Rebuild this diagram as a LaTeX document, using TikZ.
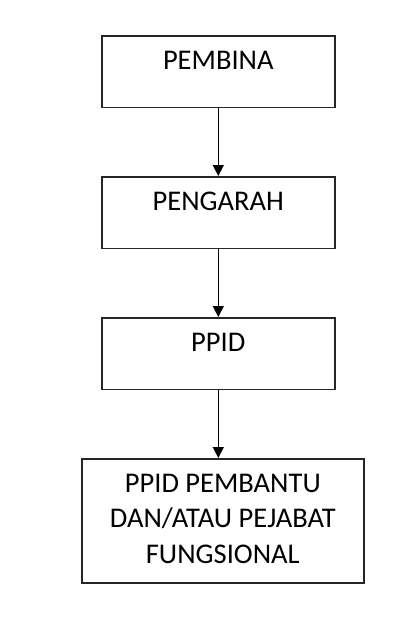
\documentclass[tikz,border=0pt]{standalone}
\usepackage{fontspec}
\setmainfont{Carlito}
\usetikzlibrary{arrows.meta}
\begin{document}
\begin{tikzpicture}[x=1pt,y=-1pt,
  orgbox/.style={draw=black!85, line width=1.6pt, inner sep=0pt, anchor=north west, minimum height=71.5pt},
  boxtext/.style={font=\fontsize{28.5}{35.5}\selectfont, inner sep=0pt, align=center},
  link/.style={draw=black, line width=1.4pt, -{Triangle[width=11pt,length=11pt]}}]
\useasboundingbox (0,0) rectangle (412,622);
\node[orgbox, minimum width=233pt] (b1) at (101,35) {};
\node[orgbox, minimum width=233pt] (b2) at (101,176) {};
\node[orgbox, minimum width=233pt] (b3) at (101,317) {};
\node[orgbox, minimum width=282pt, minimum height=124pt] (b4) at (81,458) {};
\node[boxtext, anchor=base] (t1) at ([yshift=-34pt]b1.north) {PEMBINA};
\node[boxtext, anchor=base] (t2) at ([yshift=-34.5pt]b2.north) {PENGARAH};
\node[boxtext, anchor=base] (t3) at ([yshift=-34pt]b3.north) {PPID};
\node[boxtext, anchor=north] (t4) at ([yshift=-16pt]b4.north) {PPID PEMBANTU\\DAN/ATAU PEJABAT\\FUNGSIONAL};
\draw[link] (b1.south) -- (b2.north);
\draw[link] (b2.south) -- (b3.north);
\draw[link] (b3.south) -- (b3.south |- b4.north);
\end{tikzpicture}
\end{document}
